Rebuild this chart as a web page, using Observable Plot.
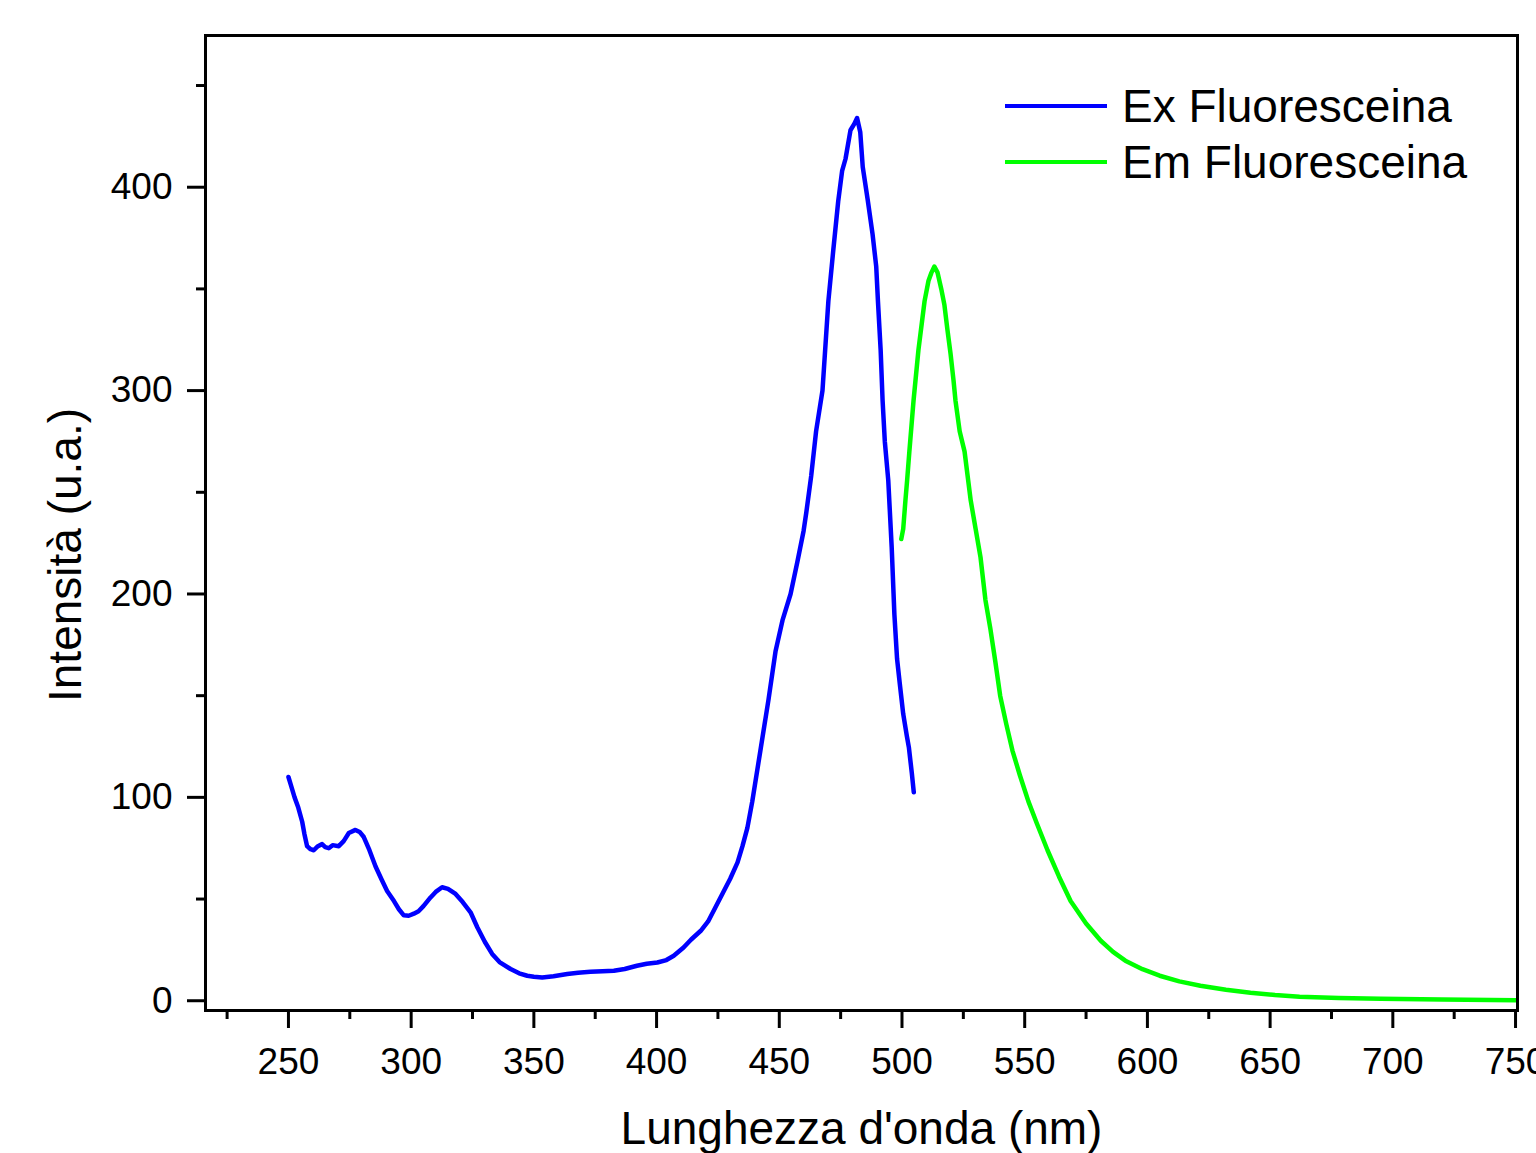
<!DOCTYPE html>
<html>
<head>
<meta charset="utf-8">
<script src="https://cdn.jsdelivr.net/npm/d3@7"></script>
<script src="https://cdn.jsdelivr.net/npm/@observablehq/plot@0.6"></script>
<style>
  html, body { margin: 0; padding: 0; background: #fff; overflow: hidden; }
  #wrap { position: relative; width: 1536px; height: 1153px; font-family: "Liberation Sans", Arial, sans-serif; }
  .lg { position: absolute; font-size: 46px; line-height: 46px; color: #000; white-space: nowrap; }
  .sw { position: absolute; height: 4px; width: 102px; }
</style>
</head>
<body>
<div id="wrap"></div>
<script>
// Excitation spectrum (blue): wavelength (nm) and intensity (u.a.)
const exWavelength = [250,251,252.5,254,255.6,256.5,257.6,259,260.3,262,263.7,265,266.4,268,270.5,272.5,274.6,277.3,279,280.7,283,285.5,288,290.2,293,295,297,299,301.1,303,305,307.9,310,312.6,315,318.1,321,324.2,327,330,333,336,340.5,344,347.3,350,353.4,358,363.6,368,373,378,382.6,387,392,396,400.3,404,407,411,414,418,421,424,427,430,433,435,437,439,442.3,445.6,448.5,451.3,454.6,457.4,459.9,461,463,465,467.6,470,472,474,475.6,477,479,480.5,481.7,483,484,486,488,489.5,490.2,491.3,492.1,493,494.4,495.8,496.9,498,499,500.5,502,502.8,504,504.8];
const exIntensity  = [110,106,100,95,88,82,76,74.5,74,76,77,75.5,75,76.5,76,78.5,82.5,84,83,80.5,74,66,59.5,54,49,45,42,41.8,42.8,44,46.5,50.8,53.5,55.8,55,52.5,48.5,43.5,36,29,23,19,15.6,13.5,12.3,11.8,11.4,12,13.1,13.8,14.2,14.5,14.7,15.6,17.2,18.2,18.8,20,22.1,26.2,30,34.4,39,46,53,60,68,76,85,98,123,148,172,187,200,216,231,240,258,280,300,344,369,393,408,414,428,431,434,427,410,394,377,361,344,320,295,275,256,223,190,168,157,141,130,124.6,112,102.5];

// Emission spectrum (green)
const emWavelength = [499.7,500.5,501.4,502.1,503,504.7,506.7,509.2,510.8,512,513.2,514.5,516,517.3,518.5,519.8,521,521.8,523.5,525.5,528,530,532,534,536,538,540,542.5,545,548,551.5,555,559.3,564,568.7,575,581,586,591,598,605,613,621.6,632,642,652,662,678,695,720,750];
const emIntensity  = [227,232,246,256,270,295,320,344,354,358,361,358,350,342,330,318,305,295,280,270,246,232,218,197,183,167,150,136,123,111,98,87,74,61,49,38,29.5,24,19.7,15.5,12.3,9.5,7.4,5.4,3.9,2.8,2.0,1.4,1.0,0.6,0.3];

// Series names and colours
const seriesNames = ["Ex Fluoresceina", "Em Fluoresceina"];
const seriesColors = ["#0000ff", "#00ff00"];

// Axis ticks
const xMajorTicks = [250,300,350,400,450,500,550,600,650,700,750];
const xMinorTicks = [225,275,325,375,425,475,525,575,625,675,725];
const yMajorTicks = [0,100,200,300,400];
const yMinorTicks = [50,150,250,350,450];
const xTitle = "Lunghezza d'onda (nm)";
const yTitle = "Intensità (u.a.)";

const ex = exWavelength.map((w, i) => ({w, v: exIntensity[i], s: seriesNames[0]}));
const em = emWavelength.map((w, i) => ({w, v: emIntensity[i], s: seriesNames[1]}));

const chart = Plot.plot({
  width: 1536,
  height: 1153,
  marginLeft: 205,
  marginRight: 19,
  marginTop: 35,
  marginBottom: 143,
  style: {fontFamily: "'Liberation Sans', Arial, sans-serif", fontSize: "37px", background: "#fff", color: "#000", overflow: "visible"},
  x: {domain: [216.2, 750.8]},
  y: {domain: [-4.8, 474.6]},
  color: {domain: seriesNames, range: seriesColors},
  marks: [
    Plot.axisX({ticks: xMajorTicks, tickSize: 18, tickPadding: 19, strokeWidth: 3, fontSize: 37, label: null}),
    Plot.axisX({ticks: xMinorTicks, tickSize: 9, strokeWidth: 3, text: null, label: null}),
    Plot.axisY({ticks: yMajorTicks, tickSize: 18, tickPadding: 15, strokeWidth: 3, fontSize: 37, label: null}),
    Plot.axisY({ticks: yMinorTicks, tickSize: 9, strokeWidth: 3, text: null, label: null}),
    Plot.line(ex, {x: "w", y: "v", stroke: "s", strokeWidth: 4.5, strokeLinejoin: "round"}),
    Plot.line(em, {x: "w", y: "v", stroke: "s", strokeWidth: 4.5, strokeLinejoin: "round"}),
    Plot.frame({stroke: "#000", strokeWidth: 3}),
    Plot.text([xTitle], {text: d => d, frameAnchor: "bottom", textAnchor: "middle", lineAnchor: "bottom", dy: 133, fontSize: 46}),
    Plot.text([yTitle], {text: d => d, frameAnchor: "left", textAnchor: "middle", rotate: -90, dx: -139, dy: 32, fontSize: 46})
  ]
});

const wrap = document.getElementById("wrap");
wrap.appendChild(chart);

// Legend overlay (inside the plot area, top right)
const legendTops = [83, 139];
const swatchTops = [104, 160];
seriesNames.forEach((name, i) => {
  const sw = document.createElement("div");
  sw.className = "sw";
  sw.style.left = "1005px";
  sw.style.top = swatchTops[i] + "px";
  sw.style.background = seriesColors[i];
  wrap.appendChild(sw);
  const t = document.createElement("div");
  t.className = "lg";
  t.style.left = "1122px";
  t.style.top = legendTops[i] + "px";
  t.textContent = name;
  wrap.appendChild(t);
});
</script>
</body>
</html>
